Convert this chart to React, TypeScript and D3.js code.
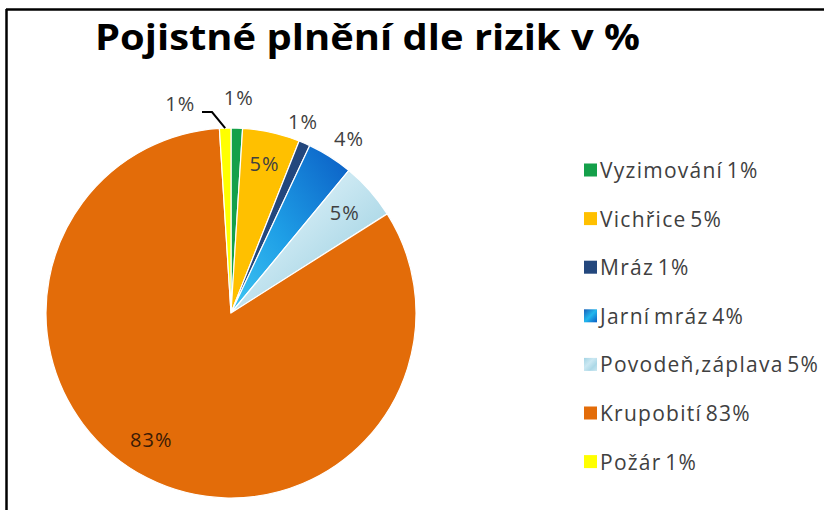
import React from "react";
import * as d3 from "d3";

const categories = ["Vyzimování", "Vichřice", "Mráz", "Jarní mráz", "Povodeň,záplava", "Krupobití", "Požár"];
const values = [1, 5, 1, 4, 5, 83, 1];
const labels = ["1%", "5%", "1%", "4%", "5%", "83%", "1%"];
const colors = ["#14a04a", "#ffc000", "#23477d", "url(#gJarni)", "url(#gPovoden)", "#e36c09", "#ffff00"];
const legendColors = ["#14a04a", "#ffc000", "#23477d", "url(#gJarniL)", "url(#gPovoden)", "#e36c09", "#ffff00"];
const title = "Pojistné plnění dle rizik v %";

const W = 824, H = 510;
const cx = 231, cy = 313, R = 185;

export default function App() {
  const pie = d3.pie<number>().sort(null).value((d) => d)(values);
  const arc = d3.arc<d3.PieArcDatum<number>>().innerRadius(0).outerRadius(R);
  const labelPos: { r: number; dx: number; dy: number }[] = [
    { r: 1.165, dx: 1, dy: 0 },
    { r: 0.83, dx: 0, dy: 0 },
    { r: 1.13, dx: -11, dy: 0 },
    { r: 1.12, dx: 7, dy: 0 },
    { r: 0.82, dx: 0, dy: 0 },
    { r: 0.83, dx: -10, dy: -10 },
    { r: 1.15, dx: -44, dy: 3 },
  ];
  const font = "'Open Sans', 'Noto Sans', sans-serif";
  return (
    <svg width={W} height={H} style={{ position: "absolute", left: 0, top: 0, background: "#fff" }}>
      <defs>
        <linearGradient id="gJarni" x1="0" y1="1" x2="1" y2="0">
          <stop offset="0%" stopColor="#3fc6f2" />
          <stop offset="45%" stopColor="#1e9ee6" />
          <stop offset="100%" stopColor="#0a5cc4" />
        </linearGradient>
        <linearGradient id="gJarniL" x1="0" y1="0" x2="1" y2="1">
          <stop offset="0%" stopColor="#1a5fb8" />
          <stop offset="50%" stopColor="#22b8ee" />
          <stop offset="100%" stopColor="#0a5cc4" />
        </linearGradient>
        <linearGradient id="gPovoden" x1="0" y1="0" x2="1" y2="1">
          <stop offset="0%" stopColor="#a4d4e4" />
          <stop offset="40%" stopColor="#cbe8f2" />
          <stop offset="70%" stopColor="#acd8e7" />
          <stop offset="100%" stopColor="#c8e6f0" />
        </linearGradient>
      </defs>
      <line x1={6} y1={9.5} x2={W} y2={9.5} stroke="#000" strokeWidth={2.5} />
      <line x1={6.5} y1={9} x2={6.5} y2={H} stroke="#000" strokeWidth={2.5} />
      <text x={95} y={50} textLength={545} lengthAdjust="spacingAndGlyphs" fontFamily={font} fontWeight="bold" fontSize={36} fill="#000">
        {title}
      </text>
      <g transform={`translate(${cx},${cy})`}>
        {pie.map((p, i) => (
          <path key={i} d={arc(p) || ""} fill={colors[i]} stroke="#fff" strokeWidth={1.2} />
        ))}
        {pie.map((p, i) => {
          const a = (p.startAngle + p.endAngle) / 2;
          const lp = labelPos[i];
          const x = Math.sin(a) * R * lp.r + lp.dx;
          const y = -Math.cos(a) * R * lp.r + lp.dy;
          return (
            <text key={"l" + i} x={x} y={y} textAnchor="middle" dominantBaseline="central"
              fontFamily={font} fontSize={20} letterSpacing={1} fill={i === 5 ? "#3a1a05" : "#404040"}>
              {labels[i]}
            </text>
          );
        })}
        {(() => {
          const p = pie[6];
          const a = (p.startAngle + p.endAngle) / 2;
          const ex = Math.sin(a) * R, ey = -Math.cos(a) * R;
          return <polyline points={`${-29},${-201} ${-19},${-201} ${ex},${ey}`} fill="none" stroke="#000" strokeWidth={2} />;
        })()}
      </g>
      <g>
        {categories.map((c, i) => {
          const y = 170 + i * 48.6;
          return (
            <g key={c}>
              <rect x={584} y={y - 6.5} width={13} height={13} fill={legendColors[i]} />
              <text x={600} y={y} dominantBaseline="central" fontFamily={font} fontSize={21} letterSpacing={1.25} wordSpacing={-3} fill="#404040">
                {`${c} ${labels[i]}`}
              </text>
            </g>
          );
        })}
      </g>
    </svg>
  );
}
